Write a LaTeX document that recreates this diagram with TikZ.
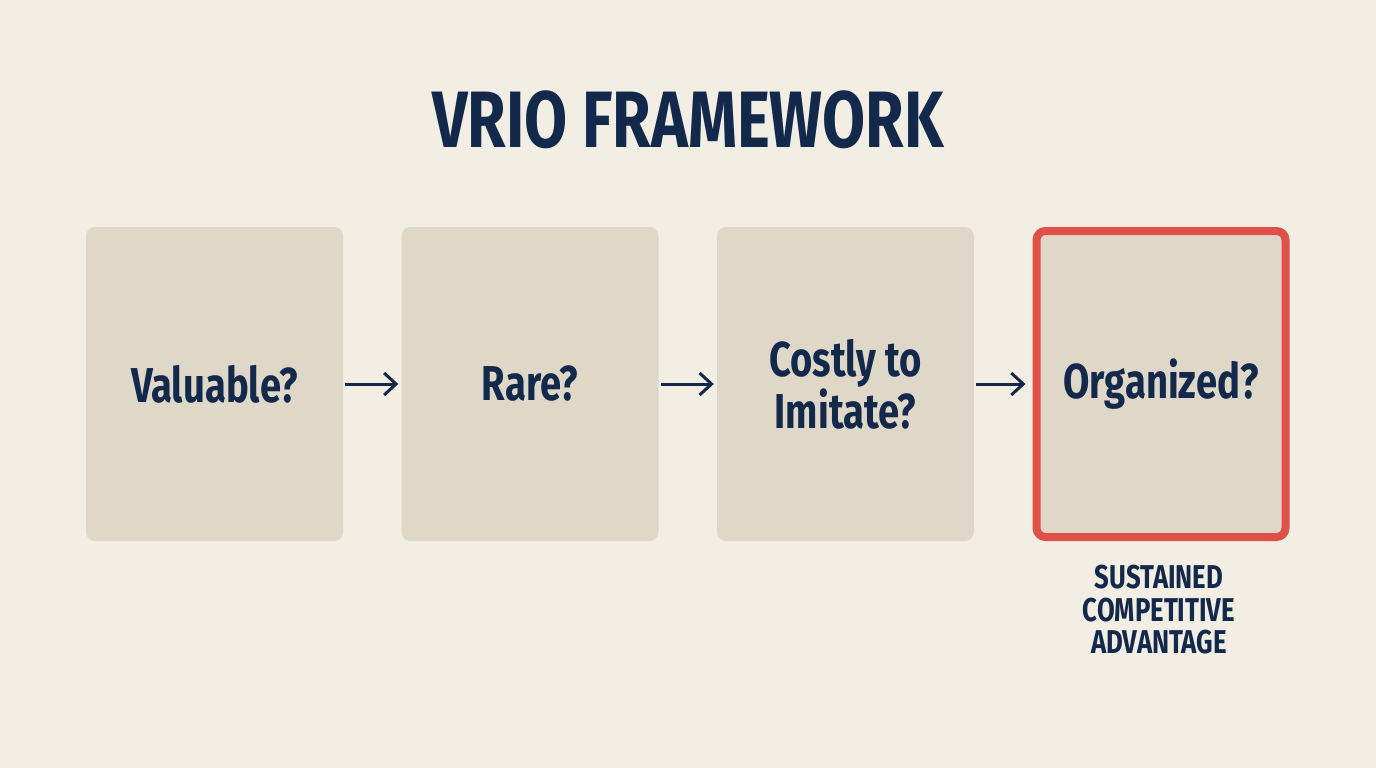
\documentclass[tikz,border=0pt]{standalone}
\usepackage{fontspec}
\setmainfont{Fira Sans}[FakeStretch=0.78]
\usetikzlibrary{arrows.meta}
\definecolor{bg}{HTML}{F3EEE3}
\definecolor{boxfill}{HTML}{DFD8C8}
\definecolor{navy}{HTML}{13294B}
\definecolor{redb}{HTML}{E0504A}
\tikzset{
  stepbox/.style={rectangle, rounded corners=9pt, fill=boxfill, minimum width=257pt, minimum height=314pt, inner sep=0pt, align=center, text=navy, font=\fontsize{49}{52}\selectfont\bfseries},
  hilite/.style={draw=redb, line width=8pt, minimum width=249pt, minimum height=306pt},
  flow/.style={draw=navy, line width=3pt, -{Straight Barb[length=12pt,width=22pt,line width=3pt]}},
}
\begin{document}
\begin{tikzpicture}[x=1pt,y=-1pt]
\fill[bg] (0,0) rectangle (1376,768);
\useasboundingbox (0,0) rectangle (1376,768);
\node[text=navy, font=\fontsize{80}{90}\selectfont\bfseries] (title) at (688,120) {VRIO FRAMEWORK};
\node[stepbox] (v) at (214.5,384) {Valuable?};
\node[stepbox] (r) at (530,384) {Rare?};
\node[stepbox] (i) at (845.5,384) {Costly to\\Imitate?};
\node[stepbox, hilite] (o) at (1161,384) {Organized?};
\node[text=navy, align=center, font=\fontsize{33}{32.5}\selectfont\bfseries] (sca) at (1159,610) {SUSTAINED\\COMPETITIVE\\ADVANTAGE};
\draw[flow] ([xshift=2pt]v.east) -- ([xshift=-3pt]r.west);
\draw[flow] ([xshift=2pt]r.east) -- ([xshift=-3pt]i.west);
\draw[flow] ([xshift=2pt]i.east) -- ([xshift=-7pt]o.west);
\end{tikzpicture}
\end{document}
